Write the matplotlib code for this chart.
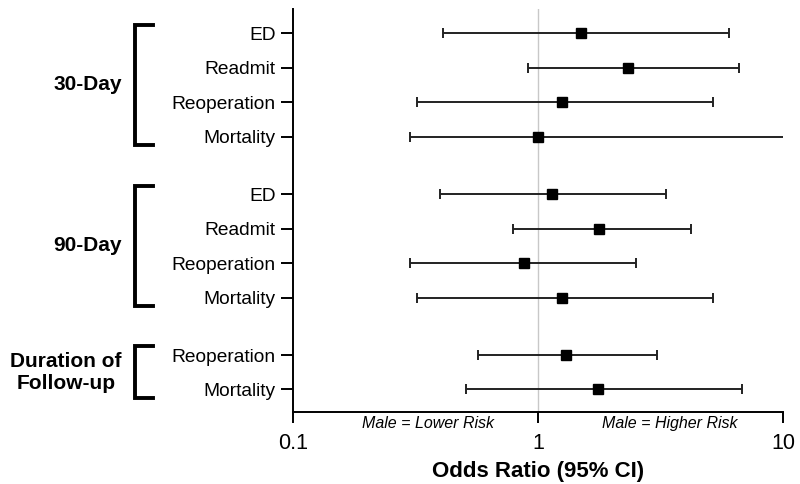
import numpy as np
import matplotlib
matplotlib.use("Agg")
import matplotlib.pyplot as plt
import matplotlib.transforms as mtransforms

plt.rcParams["font.family"] = ["Liberation Sans", "DejaVu Sans"]

# data (odds ratio, 95% CI)
groups = ["30-Day", "90-Day", "Duration of\nFollow-up"]
group_sizes = [4, 4, 2]
labels = ["ED", "Readmit", "Reoperation", "Mortality",
          "ED", "Readmit", "Reoperation", "Mortality",
          "Reoperation", "Mortality"]
odds = [1.50, 2.32, 1.25, 1.00, 1.14, 1.77, 0.88, 1.25, 1.30, 1.75]
ci_low = [0.41, 0.91, 0.32, 0.30, 0.40, 0.79, 0.30, 0.32, 0.57, 0.51]
ci_high = [6.00, 6.60, 5.19, 15.0, 3.32, 4.21, 2.50, 5.19, 3.05, 6.82]

# row positions: 1 unit per row, extra gap between groups
gap = 0.67
ypos = []
start = 0.0
group_spans = []
for n in group_sizes:
    rows = [start + i for i in range(n)]
    ypos += rows
    group_spans.append((rows[0], rows[-1]))
    start = rows[-1] + 1 + gap
ypos = np.array(ypos)

odds = np.array(odds)
err = np.vstack([odds - np.array(ci_low), np.array(ci_high) - odds])

fig = plt.figure(figsize=(8, 4.84), dpi=100)
ax = fig.add_axes([0.366, 0.149, 0.613, 0.832])

ax.axvline(1, color="#c8c8c8", lw=1, zorder=0)
ax.errorbar(odds, ypos, xerr=err, fmt="s", color="black", ecolor="#222222",
            elinewidth=1.4, capsize=3.6, capthick=1.4, markersize=6.5)

ax.set_xscale("log")
ax.set_xlim(0.1, 10)
ax.set_ylim(10.99, -0.70)
ax.set_xticks([0.1, 1, 10])
ax.set_xticklabels(["0.1", "1", "10"])
ax.minorticks_off()
ax.set_yticks(ypos)
ax.set_yticklabels(labels)

for s in ["top", "right"]:
    ax.spines[s].set_visible(False)
for s in ["left", "bottom"]:
    ax.spines[s].set_linewidth(1.4)

ax.tick_params(axis="x", length=8, width=1.4, pad=7, labelsize=15.5)
ax.tick_params(axis="y", length=8.5, width=1.4, pad=4, labelsize=13.8)
ax.set_xlabel("Odds Ratio (95% CI)", fontsize=16, fontweight="bold", labelpad=5)

# direction notes under the axis
blend = mtransforms.blended_transform_factory(ax.transData, ax.transAxes)
ax.text(0.66, -0.029, "Male = Lower Risk", transform=blend, ha="right", va="center",
        fontsize=11.5, style="italic")
ax.text(1.83, -0.029, "Male = Higher Risk", transform=blend, ha="left", va="center",
        fontsize=11.5, style="italic")

# group brackets and labels
bt = mtransforms.blended_transform_factory(ax.transAxes, ax.transData)
for name, (y0, y1) in zip(groups, group_spans):
    top, bot = y0 - 0.25, y1 + 0.25
    ax.plot([-0.286, -0.322, -0.322, -0.286], [top, top, bot, bot], color="black",
            lw=2.8, transform=bt, clip_on=False, solid_joinstyle="miter")
    ax.text(-0.349, (y0 + y1) / 2, name, transform=bt, ha="right", va="center",
            multialignment="center", fontsize=15, fontweight="bold", linespacing=1.2)

fig.savefig("out.png", dpi=100)
